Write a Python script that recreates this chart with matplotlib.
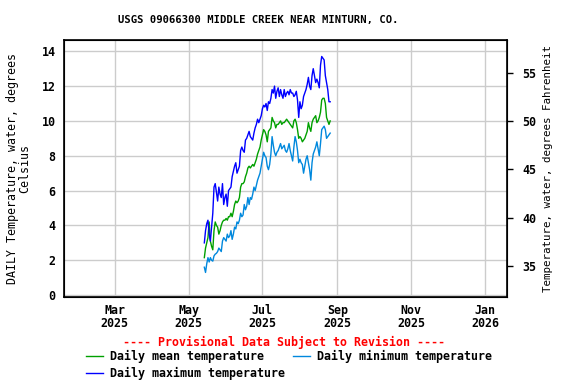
import numpy as np
import pandas as pd
from matplotlib import pyplot as plt
import matplotlib.dates as mdates

plt.rcParams['font.family'] = ['DejaVu Sans Mono']
plt.rcParams['font.weight'] = 'bold'
plt.rcParams['font.size'] = 8.4

# daily values, 2025-05-14 onward
start_date = '2025-05-14'

temp_max = [3.0, 3.7, 4.1, 4.3, 3.5, 3.1, 3.9, 4.7, 6.2, 6.4,
            5.9, 5.4, 6.2, 5.8, 5.6, 6.4, 5.2, 5.6, 5.8, 5.1,
            6.0, 6.1, 6.2, 6.8, 7.1, 7.4, 7.6, 7.0, 7.2, 7.4,
            8.3, 8.5, 8.3, 8.2, 8.9, 9.0, 9.2, 9.4, 9.1, 9.0,
            8.9, 9.3, 9.6, 9.8, 10.1, 9.9, 10.1, 10.3, 10.7, 10.9,
            10.8, 11.0, 10.6, 11.1, 11.0, 11.3, 11.8, 11.6, 12.0, 11.3,
            11.7, 11.9, 11.4, 11.8, 11.5, 11.3, 11.8, 11.4, 11.6, 11.7,
            11.5, 11.8, 11.6, 11.6, 11.4, 11.5, 11.7, 11.2, 10.2, 11.1,
            10.7, 10.9, 11.4, 11.6, 11.8, 12.1, 12.5, 12.0, 11.8, 12.6,
            13.0, 12.6, 12.2, 12.4, 12.2, 11.9, 13.2, 13.7, 13.6, 13.5,
            12.6, 12.2, 11.8, 11.1, 11.1]

temp_mean = [2.15, 2.7, 3.0, 3.3, 4.2, 3.1, 2.8, 2.6, 3.7, 4.2,
             4.0, 3.9, 3.5, 3.7, 4.0, 4.2, 4.3, 4.3, 4.4, 4.3,
             4.5, 4.5, 4.7, 4.5, 4.8, 5.2, 5.4, 5.3, 5.4, 5.6,
             6.2, 6.4, 6.4, 6.5, 6.8, 7.0, 7.3, 7.4, 7.3, 7.4,
             7.5, 7.4, 7.6, 7.8, 8.1, 8.3, 8.5, 8.9, 9.2, 9.5,
             9.4, 9.2, 8.8, 9.4, 9.5, 9.6, 10.2, 10.0, 9.9, 9.6,
             9.8, 9.8, 9.9, 10.0, 9.8, 9.9, 9.9, 10.0, 10.1, 10.0,
             9.9, 9.8, 9.7, 9.6, 10.0, 10.1, 9.9, 9.5, 9.0, 9.1,
             9.0, 8.8, 8.9, 9.0, 9.2, 9.4, 9.9, 9.6, 9.4, 9.9,
             10.1, 10.2, 10.3, 9.9, 10.0, 10.2, 10.5, 11.2, 11.3, 11.3,
             11.0, 10.2, 10.0, 9.8, 10.0]

temp_min = [1.6, 1.3, 1.8, 2.15, 1.9, 2.15, 2.0, 1.95, 2.25, 2.35,
            2.4, 2.5, 2.7, 2.6, 2.5, 3.1, 3.3, 3.2, 3.1, 3.5,
            3.3, 3.4, 3.7, 3.2, 3.5, 3.9, 3.8, 4.2, 4.1, 4.3,
            4.7, 4.5, 4.6, 5.2, 4.9, 5.1, 5.6, 5.2, 5.6, 5.5,
            5.8, 6.2, 6.0, 6.3, 6.6, 6.8, 7.0, 7.4, 7.8, 8.2,
            8.0, 7.9, 7.4, 7.2, 7.5, 8.1, 9.1, 8.6, 8.2, 8.0,
            8.2, 8.3, 8.5, 8.7, 8.4, 8.5, 8.6, 8.3, 8.2, 8.4,
            8.7, 8.3, 8.0, 7.7, 8.5, 9.1, 8.8, 8.3, 7.6, 7.8,
            7.6, 7.5, 7.0, 7.4, 7.8, 8.0, 7.6, 7.2, 6.6, 7.6,
            8.1, 8.3, 8.5, 8.8, 8.4, 8.0, 8.7, 9.5, 9.6, 9.7,
            9.5, 9.0, 9.1, 9.2, 9.3]

dates = pd.date_range(start_date, periods=len(temp_max), freq='D')

tick_dates = ['2025-03-01', '2025-05-01', '2025-07-01',
              '2025-09-01', '2025-11-01', '2026-01-01']
celsius_ticks = [0, 2, 4, 6, 8, 10, 12, 14]
fahrenheit_ticks = [35, 40, 45, 50, 55]

fig = plt.figure(figsize=(5.76, 3.84), dpi=100)
ax = fig.add_axes([0.111, 0.227, 0.769, 0.669])

c_mean = '#00A000'
c_min = '#0088DD'
c_max = '#0000FF'

l_mean, = ax.plot(dates, temp_mean, color=c_mean, lw=1)
l_min, = ax.plot(dates, temp_min, color=c_min, lw=1)
l_max, = ax.plot(dates, temp_max, color=c_max, lw=1)

ymin, ymax = -0.1, 14.65
ax.set_ylim(ymin, ymax)
ax.set_xlim(pd.Timestamp('2025-01-18'), pd.Timestamp('2026-01-19'))
ax.set_yticks(celsius_ticks)
ax.set_xticks(pd.to_datetime(tick_dates))
ax.xaxis.set_major_formatter(mdates.DateFormatter('%b\n%Y'))
ax.tick_params(axis='x', length=0, pad=5)
ax.tick_params(axis='y', length=0, pad=6)
for lbl in ax.get_xticklabels():
    lbl.set_linespacing(1.05)
ax.grid(True, color='#cccccc', lw=1)
ax.set_axisbelow(True)
for s in ax.spines.values():
    s.set_linewidth(1.2)

ax.set_ylabel('DAILY Temperature, water, degrees\nCelsius',
              linespacing=0.95)
ax.yaxis.set_label_coords(-0.074, 0.5)

# right axis in Fahrenheit
ax2 = ax.twinx()
ax2.set_ylim(ymin * 1.8 + 32, ymax * 1.8 + 32)
ax2.set_yticks(fahrenheit_ticks)
ax2.tick_params(length=4, width=1, pad=7)
ax2.set_ylabel('Temperature, water, degrees Fahrenheit', labelpad=5,
               fontsize=7.8)

fig.text(0.449, 0.948, 'USGS 09066300 MIDDLE CREEK NEAR MINTURN, CO.',
         ha='center', va='center', fontsize=7.6)
fig.text(0.493, 0.107, '---- Provisional Data Subject to Revision ----',
         color='red', ha='center', va='center')

handles = [l_mean, l_max, l_min]
labels = ['Daily mean temperature', 'Daily maximum temperature',
          'Daily minimum temperature']
fig.legend(handles, labels, ncol=2, loc='upper left',
           bbox_to_anchor=(0.150, 0.088), frameon=False,
           handlelength=1.45, handletextpad=0.6, columnspacing=0.7,
           labelspacing=0.3, borderaxespad=0, borderpad=0)

plt.savefig('out.png', dpi=100)
